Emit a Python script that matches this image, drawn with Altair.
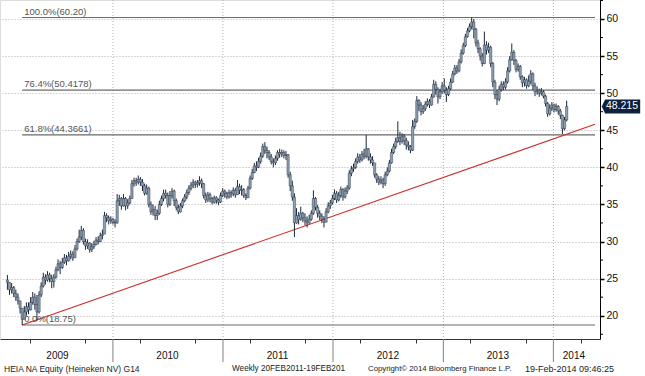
import altair as alt
import pandas as pd

# ---------------- data ----------------
start_date = "2009-01-16"          # first weekly bar
first_open = 24.8

close = [
    24.5, 23.5, 23.8, 23.0, 22.5, 22.0, 21.0, 19.5, 20.5, 21.2,
    20.8, 21.8, 22.5, 21.5, 20.5, 22.8, 24.0, 25.2, 24.8, 25.5,
    25.0, 24.6, 25.2, 26.2, 27.0, 26.5, 27.2, 27.8, 27.4, 28.0,
    28.3, 27.8, 29.0, 30.0, 30.6, 31.5, 30.0, 29.4, 29.8, 28.9,
    29.3, 29.6, 30.2, 30.0, 30.8, 31.0, 33.5, 33.2, 32.8, 33.0,
    32.6, 32.5, 35.5, 35.8, 34.8, 35.8, 34.8, 35.2, 35.8, 37.8,
    38.2, 38.0, 38.4, 38.0, 37.5, 36.5, 37.2, 35.0, 34.0, 34.3,
    33.5, 33.8, 35.0, 35.8, 36.5, 36.2, 35.0, 36.2, 36.8, 35.5,
    34.6, 34.0, 34.8, 35.5, 36.0, 36.6, 37.2, 37.6, 38.0, 37.7,
    37.9, 38.2, 37.8, 36.2, 35.6, 36.3, 35.8, 35.3, 35.9, 35.6,
    35.3, 36.2, 36.8, 36.5, 36.0, 36.6, 36.4, 36.9, 36.3, 37.4,
    36.9, 37.0, 36.2, 35.9, 37.2, 38.5, 39.3, 40.2, 40.0, 40.8,
    41.5, 42.8, 42.3, 42.0, 41.4, 40.8, 40.6, 41.2, 42.0, 41.8,
    42.0, 41.6, 41.7, 39.0, 37.5, 36.0, 32.5, 33.5, 33.0, 33.8,
    33.2, 32.8, 32.5, 33.0, 33.8, 35.8, 34.6, 33.8, 33.4, 33.0,
    32.6, 34.0, 34.8, 35.2, 35.8, 36.5, 35.6, 36.2, 37.0, 36.0,
    36.8, 37.2, 39.2, 39.8, 40.0, 40.8, 41.4, 41.0, 41.8, 41.5,
    42.5, 41.4, 41.0, 40.6, 39.0, 38.4, 38.0, 38.3, 37.8, 39.0,
    39.5, 40.6, 42.0, 42.8, 43.5, 44.0, 43.5, 44.2, 43.6, 43.0,
    42.8, 42.3, 45.5, 46.2, 49.0, 48.4, 47.5, 47.9, 48.5, 48.9,
    48.4, 49.5, 51.2, 50.5, 49.5, 50.2, 51.0, 50.4, 49.8, 50.6,
    51.5, 52.6, 53.4, 53.0, 54.2, 55.4, 56.4, 57.6, 58.4, 59.0,
    59.6, 58.6, 56.8, 56.0, 55.0, 54.0, 56.5, 55.8, 56.2, 54.0,
    51.5, 49.8, 49.2, 50.5, 51.2, 50.8, 51.5, 53.0, 54.5, 55.5,
    54.4, 53.2, 53.6, 52.2, 51.4, 51.8, 51.0, 51.6, 52.6, 51.0,
    50.2, 50.4, 50.0, 50.2, 49.6, 48.6, 47.2, 48.0, 48.4, 47.8,
    48.2, 47.6, 47.0, 45.2, 46.4, 48.215,
]
high = [
    25.5, 24.5, 24.4, 24.0, 23.5, 23.0, 22.0, 21.0, 21.3, 21.8,
    21.8, 22.5, 23.2, 23.0, 22.8, 23.3, 24.5, 25.8, 25.6, 26.0,
    25.8, 25.5, 25.6, 26.6, 27.6, 27.4, 27.8, 28.3, 28.2, 28.6,
    28.8, 28.7, 29.5, 30.4, 31.6, 32.1, 31.8, 30.4, 30.3, 29.9,
    29.8, 30.1, 30.6, 30.7, 31.2, 31.6, 34.0, 33.8, 33.5, 33.4,
    33.2, 33.0, 36.4, 36.3, 36.0, 36.4, 36.0, 35.7, 36.2, 38.3,
    38.6, 38.6, 38.9, 38.7, 38.4, 37.8, 37.7, 37.4, 35.4, 35.0,
    34.8, 34.3, 35.5, 36.2, 37.0, 37.0, 36.6, 36.8, 37.2, 37.0,
    35.8, 35.0, 35.2, 35.8, 36.4, 37.0, 37.6, 38.0, 38.4, 38.2,
    38.3, 38.8, 38.5, 37.9, 36.6, 36.7, 36.6, 36.0, 36.2, 36.1,
    35.8, 36.6, 37.2, 37.0, 36.7, 37.0, 36.9, 37.3, 37.2, 38.3,
    37.8, 37.6, 37.2, 36.5, 37.5, 38.9, 39.8, 40.6, 40.8, 41.3,
    42.0, 43.2, 43.4, 42.8, 42.3, 41.8, 41.2, 41.6, 42.3, 42.5,
    42.4, 42.3, 42.2, 41.8, 39.4, 38.2, 36.5, 34.5, 34.0, 34.7,
    34.0, 33.8, 33.4, 33.6, 34.2, 36.9, 36.0, 34.9, 34.2, 33.8,
    33.4, 34.5, 35.3, 35.6, 36.3, 37.0, 36.8, 36.7, 37.4, 37.2,
    37.3, 37.6, 39.6, 40.2, 40.5, 41.2, 41.9, 41.8, 42.2, 42.5,
    44.4, 42.6, 41.9, 41.5, 40.6, 39.2, 38.8, 38.8, 38.6, 39.4,
    40.0, 41.0, 42.5, 43.2, 44.0, 46.2, 44.8, 44.6, 44.5, 44.0,
    43.5, 43.0, 46.4, 46.6, 49.6, 49.2, 48.8, 48.4, 48.9, 49.3,
    49.2, 49.9, 51.8, 51.6, 50.8, 50.6, 51.5, 52.0, 50.8, 51.0,
    52.0, 53.0, 53.8, 53.8, 54.6, 55.9, 56.8, 58.0, 58.8, 59.4,
    60.2, 60.0, 58.8, 57.2, 56.2, 55.4, 58.3, 57.0, 56.8, 56.4,
    54.2, 51.8, 50.4, 51.0, 51.6, 51.6, 52.0, 53.5, 55.0, 56.7,
    55.8, 54.6, 54.0, 53.8, 52.4, 52.2, 52.0, 52.4, 53.1, 52.8,
    51.4, 50.9, 50.6, 50.7, 50.4, 49.8, 48.8, 48.5, 48.8, 48.6,
    48.6, 48.4, 47.9, 47.1, 46.8, 49.0,
]
low = [
    23.5, 22.8, 23.0, 22.5, 22.0, 21.5, 20.3, 18.75, 19.6, 20.0,
    20.2, 20.7, 21.5, 20.8, 19.3, 20.3, 22.5, 23.8, 24.2, 24.6,
    24.5, 23.7, 23.8, 25.0, 26.0, 25.6, 26.3, 27.0, 26.8, 27.3,
    27.6, 27.4, 27.9, 28.8, 29.8, 30.2, 29.6, 28.9, 29.0, 28.5,
    28.6, 29.0, 29.5, 29.6, 29.9, 30.3, 31.0, 32.6, 32.3, 32.4,
    32.3, 31.9, 32.4, 34.8, 34.3, 34.7, 34.2, 34.4, 35.0, 35.8,
    37.4, 37.5, 37.7, 37.5, 36.8, 36.2, 36.3, 34.6, 33.6, 33.5,
    32.9, 32.9, 33.6, 34.8, 35.4, 35.8, 34.6, 34.8, 35.8, 34.8,
    34.2, 33.7, 33.9, 34.5, 35.3, 35.7, 36.3, 36.9, 37.2, 37.2,
    37.3, 37.5, 37.2, 35.8, 35.2, 35.3, 35.3, 35.0, 35.1, 35.1,
    34.9, 35.2, 36.0, 35.9, 35.7, 35.8, 35.9, 36.1, 35.9, 36.3,
    36.4, 36.2, 35.9, 35.6, 35.9, 37.0, 38.3, 39.2, 39.5, 39.9,
    40.5, 41.3, 41.8, 41.2, 41.0, 40.4, 40.0, 40.3, 40.9, 41.3,
    41.4, 41.2, 41.0, 38.6, 36.8, 35.5, 30.6, 32.4, 32.3, 32.8,
    32.6, 32.2, 31.9, 32.4, 32.8, 33.6, 34.2, 33.2, 32.9, 32.5,
    31.9, 32.6, 33.8, 34.4, 35.0, 35.6, 35.2, 35.4, 35.9, 35.5,
    35.8, 36.4, 37.0, 38.8, 39.4, 39.8, 40.5, 40.6, 40.8, 41.1,
    41.2, 40.9, 40.5, 40.2, 38.6, 37.9, 37.6, 37.7, 37.2, 37.5,
    38.8, 39.3, 40.5, 41.8, 42.5, 43.3, 43.0, 43.2, 43.0, 42.4,
    42.3, 41.9, 42.2, 45.2, 46.0, 47.6, 47.0, 47.2, 47.6, 48.2,
    48.0, 48.3, 49.4, 49.8, 48.6, 49.2, 49.9, 50.0, 48.8, 49.6,
    50.4, 51.4, 52.4, 52.6, 52.8, 54.0, 55.2, 56.2, 57.5, 58.2,
    58.6, 57.4, 56.3, 55.4, 54.4, 53.6, 53.9, 55.2, 55.4, 53.5,
    50.8, 49.2, 48.4, 48.9, 50.2, 50.4, 50.5, 51.3, 52.8, 54.4,
    53.8, 52.8, 52.9, 51.8, 50.8, 50.9, 50.6, 50.8, 51.2, 50.4,
    49.6, 49.8, 49.5, 49.7, 49.3, 48.2, 46.8, 47.0, 47.6, 47.4,
    47.5, 47.1, 46.5, 44.5, 45.0, 46.2,
]

# Fibonacci retracement levels
fib_labels = ["100.0%(60.20)", "76.4%(50.4178)", "61.8%(44.3661)", "0.0%(18.75)"]
fib_values = [60.20, 50.4178, 44.3661, 18.75]
fib_start = "2009-03-06"
fib_end = "2014-05-19"

# red trend line (two anchor points)
trend_dates = ["2009-03-06", "2014-05-19"]
trend_values = [18.75, 45.8]

last_price = 48.215
last_label = "48.215"

# x axis decorations
year_bounds = ["2010-01-01", "2011-01-01", "2012-01-01", "2013-01-01", "2014-01-01"]
quarter_ticks = ["2009-04-01", "2009-07-01", "2009-10-01",
                 "2010-04-01", "2010-07-01", "2010-10-01",
                 "2011-04-01", "2011-07-01", "2011-10-01",
                 "2012-04-01", "2012-07-01", "2012-10-01",
                 "2013-04-01", "2013-07-01", "2013-10-01",
                 "2014-04-01"]
year_labels = ["2009", "2010", "2011", "2012", "2013", "2014"]
year_label_dates = ["2009-07-01", "2010-07-01", "2011-07-01", "2012-07-01",
                    "2013-07-01", "2014-03-10"]
y_ticks = [20, 25, 30, 35, 40, 45, 50, 55, 60]
y_minor = [17.5, 22.5, 27.5, 32.5, 37.5, 42.5, 47.5, 52.5, 57.5, 62.5]

footer_left = "HEIA NA Equity (Heineken NV) G14"
footer_mid = "Weekly 20FEB2011-19FEB201"
footer_copy = "Copyright\u00a9 2014 Bloomberg Finance L.P."
footer_time = "19-Feb-2014 09:46:25"

# ---------------- tables ----------------
dates = pd.date_range(start_date, periods=len(close), freq="7D")
df = pd.DataFrame({"date": dates, "close": close, "high": high, "low": low})
df["open"] = df["close"].shift(1).fillna(first_open)

fib_df = pd.DataFrame({"label": fib_labels, "value": fib_values,
                       "start": pd.to_datetime([fib_start] * 4),
                       "end": pd.to_datetime([fib_end] * 4)})
trend_df = pd.DataFrame({"date": pd.to_datetime(trend_dates), "value": trend_values})
bound_df = pd.DataFrame({"date": pd.to_datetime(year_bounds)})
ylab_df = pd.DataFrame({"date": pd.to_datetime(year_label_dates), "year": year_labels})
minor_df = pd.DataFrame({"v": y_minor})
price_df = pd.DataFrame({"v": [last_price], "t": [last_label]})
one = pd.DataFrame({"a": [0]})

FONT = "Liberation Sans"
x_scale = alt.Scale(domain=[alt.DateTime(year=2009, month=1, date=8),
                            alt.DateTime(year=2014, month=5, date=19)])
y_scale = alt.Scale(domain=[16.86, 62.56], nice=False, zero=False)

q_vals = [alt.DateTime(year=int(d[:4]), month=int(d[5:7]), date=int(d[8:]))
          for d in quarter_ticks + year_bounds]

x_enc = alt.X("date:T", scale=x_scale,
              axis=alt.Axis(values=q_vals, labels=False, tickSize=4, tickColor="#333",
                            domainColor="#333", grid=False, title=None))
y_axis = alt.Axis(orient="right", values=y_ticks, tickSize=4, tickWidth=1.5,
                  tickColor="#000", domainColor="#000", labelPadding=2,
                  labelFont=FONT, labelFontSize=10.5, labelColor="#111",
                  grid=True, gridDash=[1, 2], gridColor="#b0b0b0", title=None)

# vertical dotted year grid
vgrid = alt.Chart(bound_df).mark_rule(strokeDash=[1, 2], color="#b0b0b0").encode(
    x=alt.X("date:T", scale=x_scale))
# year separator below axis
vsep = alt.Chart(bound_df).mark_rule(color="#808080").encode(
    x=alt.X("date:T", scale=x_scale), y=alt.value(339), y2=alt.value(362))

# price bars
hl = alt.Chart(df).mark_rule(color="#1b2838", strokeWidth=1).encode(
    x=x_enc,
    y=alt.Y("low:Q", scale=y_scale, axis=y_axis),
    y2="high:Q")
oc = alt.Chart(df).mark_bar(size=2.3, color="#8e9db0", stroke="#1b2838",
                            strokeWidth=0.4).encode(
    x=alt.X("date:T", scale=x_scale),
    y=alt.Y("open:Q", scale=y_scale),
    y2="close:Q")

fib_lines = alt.Chart(fib_df).mark_rule(color="#6a6a6a", strokeWidth=1.2).encode(
    x=alt.X("start:T", scale=x_scale), x2="end:T",
    y=alt.Y("value:Q", scale=y_scale))
fib_text = alt.Chart(fib_df).mark_text(align="left", baseline="bottom", dx=2, dy=-1,
                                       font=FONT, fontSize=9.5, color="#555").encode(
    x=alt.X("start:T", scale=x_scale), y=alt.Y("value:Q", scale=y_scale), text="label:N")

trend = alt.Chart(trend_df).mark_line(color="#cc2a2a", strokeWidth=1.1).encode(
    x=alt.X("date:T", scale=x_scale), y=alt.Y("value:Q", scale=y_scale))

minor = alt.Chart(minor_df).mark_rule(color="#000").encode(
    x=alt.value(600), x2=alt.value(603), y=alt.Y("v:Q", scale=y_scale))

box_path = "M-1,0L-0.83,-0.365L1,-0.365L1,0.365L-0.83,0.365Z"
pbox = alt.Chart(price_df).mark_point(shape=box_path, filled=True, size=1475,
                                      opacity=1, color="#0d203d").encode(
    x=alt.value(621), y=alt.Y("v:Q", scale=y_scale))
ptext = alt.Chart(price_df).mark_text(font=FONT, fontSize=10.5, color="white",
                                      align="center", baseline="middle").encode(
    x=alt.value(622), y=alt.Y("v:Q", scale=y_scale), text="t:N")

ylabels = alt.Chart(ylab_df).mark_text(font=FONT, fontSize=10, color="#111",
                                       baseline="middle").encode(
    x=alt.X("date:T", scale=x_scale), y=alt.value(356), text="year:N")

def foot(txt, xpos, size=8.2):
    return alt.Chart(one).mark_text(font=FONT, fontSize=size, color="#222", align="left",
                                    baseline="middle").encode(
        x=alt.value(xpos), y=alt.value(369), text=alt.value(txt))

chart = alt.layer(
    vgrid, vsep, fib_lines, trend, hl, oc, fib_text, minor, pbox, ptext, ylabels,
    foot(footer_left, 4, 8.5), foot(footer_mid, 232), foot(footer_copy, 368, 7.8),
    foot(footer_time, 525, 9),
).properties(
    width=600, height=339, autosize="none",
    padding={"left": 0, "top": 0, "right": 45, "bottom": 37},
).configure_view(stroke=None).configure(background="white")

chart.save("out.html", embed_options={"renderer": "svg", "actions": False})
